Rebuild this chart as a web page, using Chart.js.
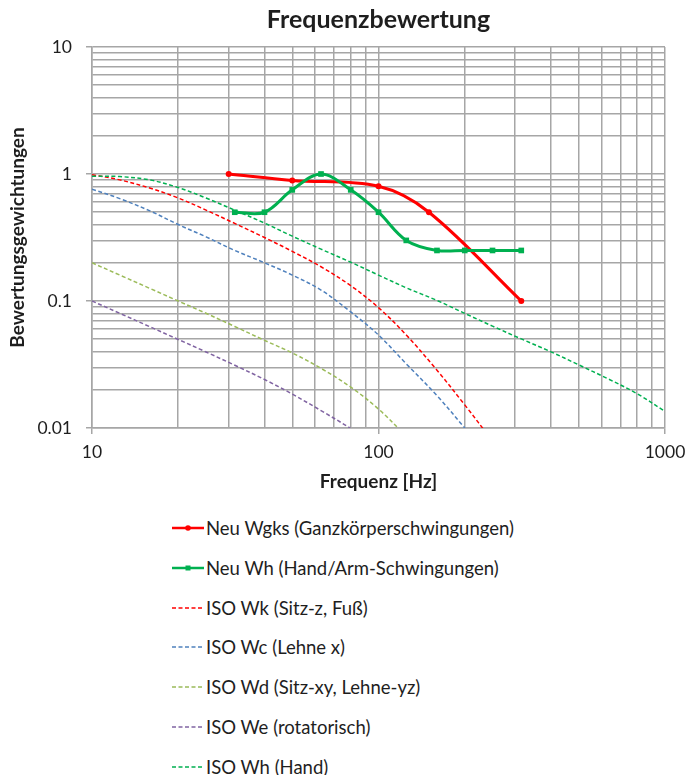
<!DOCTYPE html>
<html>
<head>
<meta charset="utf-8">
<title>Frequenzbewertung</title>
<script src="https://cdn.jsdelivr.net/npm/chart.js@4.4.1/dist/chart.umd.min.js"></script>
<style>
  body { margin: 0; background: #fff; font-family: Lato, sans-serif; }
  #wrap { position: relative; width: 687px; height: 775px; }
  #chartBox { position: absolute; left: 0; top: 0; width: 687px; height: 500px; }
  #legend { position: absolute; left: 172px; top: 518px; }
  .row { display: flex; align-items: center; height: 20px; margin-bottom: 19.8px; font-size: 18.5px; color: #1e1e1e; white-space: nowrap; }
  .row svg { margin-right: 2px; flex: none; }
</style>
</head>
<body>
<div id="wrap">
  <div id="chartBox"><canvas id="c"></canvas></div>
  <div id="legend"></div>
</div>
<script>
// Achsen / Gitter
const xGrid = [10, 20, 30, 40, 50, 60, 70, 80, 90, 100, 200, 300, 400, 500, 600, 700, 800, 900, 1000];
const yGrid = [0.01, 0.02, 0.03, 0.04, 0.05, 0.06, 0.07, 0.08, 0.09,
               0.1, 0.2, 0.3, 0.4, 0.5, 0.6, 0.7, 0.8, 0.9,
               1, 2, 3, 4, 5, 6, 7, 8, 9, 10];
const xLabels = [10, 100, 1000];
const yLabels = [0.01, 0.1, 1, 10];

// neue Bewertungen
const wgksFreq = [30, 50, 100, 150, 315];
const wgksVal  = [1.0, 0.89, 0.8, 0.5, 0.1];
const whNeuFreq = [31.5, 40, 50, 63, 80, 100, 125, 160, 200, 250, 315];
const whNeuVal  = [0.5, 0.5, 0.75, 1.0, 0.75, 0.5, 0.3, 0.25, 0.25, 0.25, 0.25];

// ISO Terzfrequenzen
const isoFreq = [10, 12.5, 16, 20, 25, 31.5, 40, 50, 63, 80, 100, 125, 160, 200, 250, 315, 400, 500, 630, 800, 1000];
const wkVal = [0.988, 0.899, 0.772, 0.647, 0.52, 0.408, 0.316, 0.246, 0.186, 0.132, 0.0887, 0.054, 0.0285, 0.0152, 0.0079];
const wcVal = [0.76, 0.64, 0.51, 0.40, 0.32, 0.25, 0.20, 0.16, 0.122, 0.082, 0.054, 0.032, 0.018, 0.01, 0.0055];
const wdVal = [0.2, 0.16, 0.125, 0.1, 0.08, 0.063, 0.049, 0.039, 0.0295, 0.021, 0.0141, 0.0086];
const weVal = [0.1, 0.08, 0.0624, 0.0498, 0.0397, 0.0312, 0.0241, 0.0185, 0.0137, 0.0099, 0.007];
const whIsoVal = [0.96, 0.955, 0.896, 0.782, 0.647, 0.519, 0.411, 0.324, 0.256, 0.202, 0.16, 0.127, 0.101,
                  0.0799, 0.0634, 0.0503, 0.0398, 0.0314, 0.0245, 0.0186, 0.0135];

const GRID = '#a6a6a6';
const TXT = '#1e1e1e';

function pts(freqs, vals) {
  return vals.map((v, i) => ({ x: freqs[i], y: v }));
}

const series = [
  { label: 'Neu Wgks (Ganzkörperschwingungen)', data: pts(wgksFreq, wgksVal), color: '#FF0000', solid: true, point: 'circle' },
  { label: 'Neu Wh (Hand/Arm-Schwingungen)', data: pts(whNeuFreq, whNeuVal), color: '#00B050', solid: true, point: 'rect' },
  { label: 'ISO Wk (Sitz-z, Fuß)', data: pts(isoFreq, wkVal), color: '#FF0000' },
  { label: 'ISO Wc (Lehne x)', data: pts(isoFreq, wcVal), color: '#4F81BD' },
  { label: 'ISO Wd (Sitz-xy, Lehne-yz)', data: pts(isoFreq, wdVal), color: '#9BBB59' },
  { label: 'ISO We (rotatorisch)', data: pts(isoFreq, weVal), color: '#8064A2' },
  { label: 'ISO Wh (Hand)', data: pts(isoFreq, whIsoVal), color: '#00B050' },
];

const datasets = series.map((s, i) => ({
  label: s.label,
  data: s.data,
  showLine: true,
  borderColor: s.color,
  backgroundColor: s.color,
  borderWidth: s.solid ? 3 : 1.5,
  borderDash: s.solid ? [] : [4, 2.5],
  tension: 0.35,
  pointStyle: s.point || 'circle',
  pointRadius: s.solid ? (s.point === 'rect' ? 4 : 3) : 0,
  pointBorderWidth: 0,
  order: series.length - i,
}));

const isMajorX = ctx => ctx.tick && xLabels.includes(ctx.tick.value);
const isMajorY = ctx => ctx.tick && yLabels.includes(ctx.tick.value);

new Chart(document.getElementById('c'), {
  type: 'scatter',
  data: { datasets },
  options: {
    responsive: true,
    maintainAspectRatio: false,
    animation: false,
    layout: { padding: { left: 0, right: 22, top: 0, bottom: 0 } },
    plugins: {
      legend: { display: false },
      tooltip: { enabled: false },
      title: {
        display: true,
        text: 'Frequenzbewertung',
        fullSize: false,
        color: TXT,
        font: { family: 'Lato', size: 25, weight: 'bold' },
        padding: { top: 4.5, bottom: 12.5 },
      },
    },
    scales: {
      x: {
        type: 'logarithmic',
        min: 10,
        max: 1000,
        afterBuildTicks: scale => { scale.ticks = xGrid.map(v => ({ value: v })); },
        afterFit: scale => { scale.height = 72; scale.paddingLeft = 0; scale.paddingRight = 0; },
        ticks: {
          autoSkip: false,
          maxRotation: 0,
          padding: 8,
          color: TXT,
          font: { family: 'Lato', size: 17.5 },
          callback: v => (xLabels.includes(v) ? String(v) : ''),
        },
        grid: { color: GRID, lineWidth: 1.5, tickLength: 6, tickColor: ctx => (isMajorX(ctx) ? GRID : 'rgba(0,0,0,0)') },
        border: { color: GRID, width: 1.5 },
        title: {
          display: true,
          text: 'Frequenz [Hz]',
          color: TXT,
          font: { family: 'Lato', size: 19, weight: 'bold' },
          padding: { top: 0, bottom: 6.6 },
        },
      },
      y: {
        type: 'logarithmic',
        min: 0.01,
        max: 10,
        afterBuildTicks: scale => { scale.ticks = yGrid.map(v => ({ value: v })); },
        afterFit: scale => { scale.width = 92; scale.paddingTop = 0; scale.paddingBottom = 0; },
        ticks: {
          autoSkip: false,
          padding: 14,
          color: TXT,
          font: { family: 'Lato', size: 17.5 },
          callback: v => (yLabels.includes(v) ? String(v) : ''),
        },
        grid: { color: GRID, lineWidth: 1.5, tickLength: 6, tickColor: ctx => (isMajorY(ctx) ? GRID : 'rgba(0,0,0,0)') },
        border: { color: GRID, width: 1.5 },
        title: {
          display: true,
          text: 'Bewertungsgewichtungen',
          color: TXT,
          font: { family: 'Lato', size: 19, weight: 'bold' },
          padding: { top: 6, bottom: 0 },
        },
      },
    },
  },
});

// Legende (senkrecht, unter dem Diagramm)
const legend = document.getElementById('legend');
series.forEach(s => {
  const row = document.createElement('div');
  row.className = 'row';
  let svg = '<svg width="32" height="12" viewBox="0 0 32 12">';
  if (s.solid) {
    svg += `<line x1="0" y1="6" x2="32" y2="6" stroke="${s.color}" stroke-width="2.5"/>`;
    if (s.point === 'rect') svg += `<rect x="13.5" y="3.5" width="5" height="5" fill="${s.color}"/>`;
    else svg += `<circle cx="16" cy="6" r="2.8" fill="${s.color}"/>`;
  } else {
    svg += `<line x1="0" y1="6" x2="32" y2="6" stroke="${s.color}" stroke-width="1.5" stroke-dasharray="4,2.5"/>`;
  }
  svg += '</svg>';
  row.innerHTML = svg + '<span>' + s.label + '</span>';
  legend.appendChild(row);
});
</script>
</body>
</html>
